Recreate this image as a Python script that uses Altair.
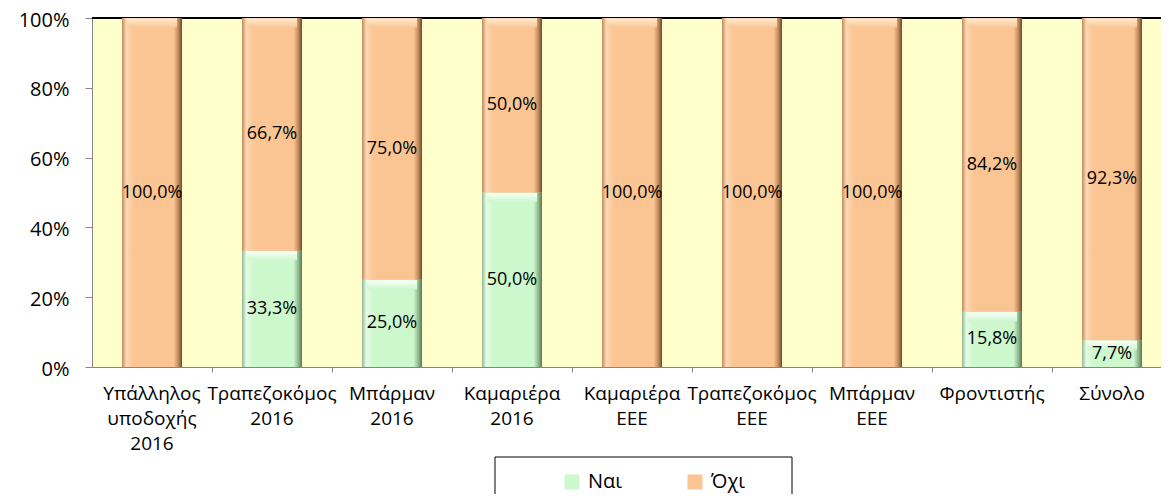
import altair as alt
import pandas as pd

categories = ["Υπάλληλος υποδοχής 2016", "Τραπεζοκόμος 2016", "Μπάρμαν 2016",
              "Καμαριέρα 2016", "Καμαριέρα ΕΕΕ", "Τραπεζοκόμος ΕΕΕ", "Μπάρμαν ΕΕΕ",
              "Φροντιστής", "Σύνολο"]
nai = [0.0, 33.3, 25.0, 50.0, 0.0, 0.0, 0.0, 15.8, 7.7]
oxi = [100.0, 66.7, 75.0, 50.0, 100.0, 100.0, 100.0, 84.2, 92.3]
series_names = ["Ναι", "Όχι"]
y_ticks = [0, 0.2, 0.4, 0.6, 0.8, 1.0]

GREEN = "#CDF7CD"
ORANGE = "#FAC592"
FONT = "Open Sans"

rows = []
for c, a, b in zip(categories, nai, oxi):
    tot = a + b
    rows.append(dict(cat=c, series="Ναι", v0=0.0, v1=a / tot, mid=a / tot / 2, val=a,
                     label=f"{a:.1f}%".replace(".", ",")))
    rows.append(dict(cat=c, series="Όχι", v0=a / tot, v1=1.0, mid=(a + b / 2) / tot, val=b,
                     label=f"{b:.1f}%".replace(".", ",")))
df = pd.DataFrame(rows)

x_enc = alt.X("cat:N", sort=categories,
              scale=alt.Scale(range=[0, 1080], paddingInner=0.5, paddingOuter=0.25),
              axis=alt.Axis(title=None, labelAngle=0, bandPosition=1.5,
                            labelExpr="split(datum.label, ' ')", labelLineHeight=25,
                            labelFont=FONT, labelFontSize=19, labelColor="black",
                            labelPadding=12, tickSize=5, tickColor="#868686",
                            domainColor="#868686", labelBaseline="top"))
y_enc = alt.Y("v0:Q", scale=alt.Scale(domain=[0, 1], nice=False),
              axis=alt.Axis(title=None, values=y_ticks, format="%", labelFont=FONT,
                            labelFontSize=20, labelColor="black", labelPadding=16,
                            labelOffset=2, tickSize=7, tickColor="#868686",
                            domainColor="#868686", grid=False))

base = alt.Chart(df)

top_line = alt.Chart(pd.DataFrame({"t": [1.0]})).mark_rule(color="black", strokeWidth=2).encode(
    y=alt.Y("t:Q"))

bars = base.mark_bar().encode(
    x=x_enc, y=y_enc, y2="v1:Q",
    color=alt.Color("series:N",
                    scale=alt.Scale(domain=series_names, range=[GREEN, ORANGE]),
                    legend=alt.Legend(orient="none", legendX=470, legendY=454,
                                      direction="horizontal", title=None,
                                      symbolType="square", symbolSize=225,
                                      symbolStrokeWidth=0, labelFont=FONT,
                                      labelFontSize=20, labelColor="black",
                                      labelOffset=6, columnPadding=62)))


def side_grad(light, base_c, edge, dark):
    return alt.LinearGradient(gradient="linear", x1=0, x2=1, y1=0, y2=0, stops=[
        alt.GradientStop(offset=0, color=edge),
        alt.GradientStop(offset=0.07, color=light),
        alt.GradientStop(offset=0.2, color=base_c),
        alt.GradientStop(offset=0.86, color=base_c),
        alt.GradientStop(offset=0.94, color=edge),
        alt.GradientStop(offset=1, color=dark)])


def top_grad(light, base_c):
    return alt.LinearGradient(gradient="linear", x1=0, x2=0, y1=0, y2=1, stops=[
        alt.GradientStop(offset=0, color=light),
        alt.GradientStop(offset=1, color=base_c)])


green_side = base.mark_bar(
    fill=side_grad("#E4FCE4", GREEN, "#8FB88F", "#557A55"), opacity=1
).encode(x=x_enc, y=y_enc, y2="v1:Q").transform_filter(
    (alt.datum.series == "Ναι") & (alt.datum.val > 0))
orange_side = base.mark_bar(
    fill=side_grad("#FCD8B4", ORANGE, "#C08A5C", "#6E4A2C"), opacity=1
).encode(x=x_enc, y=y_enc, y2="v1:Q").transform_filter(alt.datum.series == "Όχι")

green_top = base.mark_tick(
    orient="horizontal", thickness=9, size=50, yOffset=5, opacity=1,
    fill=top_grad("#FAFFFA", GREEN)
).encode(x=x_enc, y=alt.Y("v1:Q")).transform_filter(
    (alt.datum.series == "Ναι") & (alt.datum.val > 0))
orange_top = base.mark_tick(
    orient="horizontal", thickness=9, size=50, yOffset=5, opacity=1,
    fill=top_grad("#FFEBD6", ORANGE)
).encode(x=x_enc, y=alt.Y("v1:Q")).transform_filter(alt.datum.series == "Όχι")

labels = base.mark_text(font=FONT, fontSize=18, color="black").encode(
    x=x_enc, y=alt.Y("mid:Q"), text="label:N").transform_filter(alt.datum.val > 0)

legend_box = alt.Chart(pd.DataFrame({"a": [0]})).mark_rect(
    fill="white", stroke="black", strokeWidth=1).encode(
    x=alt.value(403), x2=alt.value(700), y=alt.value(439), y2=alt.value(530))

chart = alt.layer(top_line, bars, green_side, orange_side, green_top, orange_top,
                  labels, legend_box).properties(
    width=1069, height=349,
    autosize=alt.AutoSizeParams(type="none"),
    padding={"left": 84, "top": 10, "right": 0, "bottom": 127},
    background="white",
).configure_view(fill="#FFFFCC", stroke=None)

chart.save("out.html", embed_options={"renderer": "svg", "actions": False})
